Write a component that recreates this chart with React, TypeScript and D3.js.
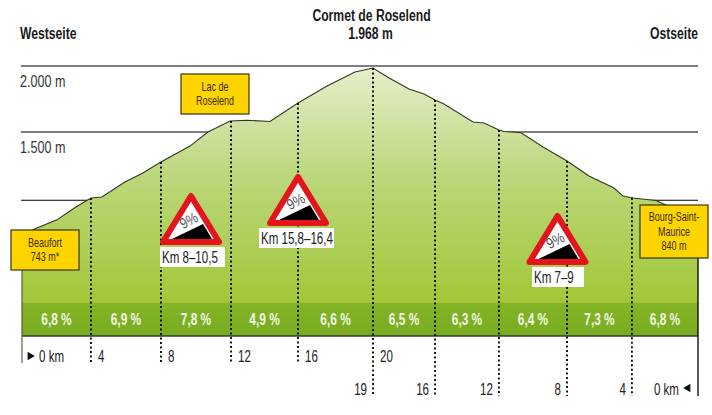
import { useEffect, useRef } from 'react';
import * as d3 from 'd3';

// distance along the drawing (schematic km) and elevation in m
const profileDist = [0, 0.77, 2.07, 3.14, 4.08, 4.73, 6.09, 7.15, 8.22, 9.94, 11, 12.31, 13.31, 14.67, 16.33, 18.05, 19.7, 20.77, 21.72, 22.9, 23.79, 24.44, 24.97, 26.69, 27.34, 28.22, 28.52, 29.53, 30.83, 32.25, 33.55, 35.03, 35.56, 36.15, 37.51, 38.1, 40];
const profileElev = [743, 790, 856, 947, 1017, 1024, 1134, 1200, 1280, 1397, 1500, 1583, 1589, 1580, 1720, 1848, 1955, 1985, 1909, 1826, 1788, 1742, 1712, 1576, 1568, 1515, 1504, 1495, 1390, 1288, 1178, 1090, 1031, 1017, 998, 966, 840];

const elevTicks = [1000, 1500, 2000];
const elevLabels = ['', '1.500 m', '2.000 m'];

const sectionEnds = [0, 4.08, 8.22, 12.37, 16.33, 20.77, 24.44, 28.22, 32.25, 36.09, 40];
const gradients = ['6,8 %', '6,9 %', '7,8 %', '4,9 %', '6,6 %', '6,5 %', '6,3 %', '6,4 %', '7,3 %', '6,8 %'];

const westKm = ['0 km', '4', '8', '12', '16', '20'];
const eastKm = ['19', '16', '12', '8', '4', '0 km'];

const places = [
  { lines: ['Lac de', 'Roselend'], x: 181, y: 74, w: 68, h: 40 },
  { lines: ['Beaufort', '743 m*'], x: 11, y: 230, w: 68, h: 40 },
  { lines: ['Bourg-Saint-', 'Maurice', '840 m'], x: 640, y: 205, w: 68, h: 53 },
];

const signs = [
  { label: 'Km 8–10,5', cx: 191, top: 191, labelX: 160, labelY: 247, labelW: 65 },
  { label: 'Km 15,8–16,4', cx: 298, top: 172, labelX: 259, labelY: 228, labelW: 75 },
  { label: 'Km 7–9', cx: 557.5, top: 211, labelX: 532, labelY: 267, labelW: 52 },
];

const FONT = '"Liberation Sans", sans-serif';

type Opts = { size?: number; weight?: number; anchor?: string; fill?: string; sx?: number };

// no condensed face is installed, so squeeze the text horizontally
function label(parent: any, txt: string, x: number, y: number, o: Opts = {}) {
  const { size = 17, weight = 400, anchor = 'start', fill = '#222', sx = 0.68 } = o;
  return parent.append('text')
    .attr('transform', `translate(${x},${y}) scale(${sx},1)`)
    .attr('text-anchor', anchor)
    .attr('font-family', FONT)
    .attr('font-size', size)
    .attr('font-weight', weight)
    .attr('fill', fill)
    .text(txt);
}

export default function App() {
  const svgRef = useRef<SVGSVGElement>(null);

  useEffect(() => {
    if (!svgRef.current) return;
    const svg = d3.select(svgRef.current);
    svg.selectAll('*').remove();

    const x = d3.scaleLinear().domain([0, 40]).range([22, 698]);
    const y = d3.scaleLinear().domain([0, 1000, 1500, 2000]).range([336, 200.3, 132, 66]);
    const bottom = y(0);
    const bandTop = y(245);

    const defs = svg.append('defs');
    const grad = defs.append('linearGradient').attr('id', 'hill').attr('x1', 0).attr('x2', 0).attr('y1', 0).attr('y2', 1);
    grad.append('stop').attr('offset', '0%').attr('stop-color', '#e6eecb');
    grad.append('stop').attr('offset', '40%').attr('stop-color', '#bcd77c');
    grad.append('stop').attr('offset', '86%').attr('stop-color', '#a2c83a');
    const bandGrad = defs.append('linearGradient').attr('id', 'band').attr('x1', 0).attr('x2', 0).attr('y1', 0).attr('y2', 1);
    bandGrad.append('stop').attr('offset', '0%').attr('stop-color', '#84b526');
    bandGrad.append('stop').attr('offset', '100%').attr('stop-color', '#79ab22');

    // elevation lines behind the hill
    svg.selectAll('.grid').data(elevTicks).join('line')
      .attr('x1', 21).attr('x2', 698)
      .attr('y1', d => y(d)).attr('y2', d => y(d))
      .attr('stroke', '#000').attr('stroke-width', 1.1);

    const pts = profileDist.map((d, i) => [d, profileElev[i]] as [number, number]);
    const area = d3.area<[number, number]>().x(d => x(d[0])).y0(bottom).y1(d => y(d[1]));
    const line = d3.line<[number, number]>().x(d => x(d[0])).y(d => y(d[1]));
    svg.append('path').attr('d', area(pts)).attr('fill', 'url(#hill)');
    svg.append('rect').attr('x', x(0)).attr('y', bandTop).attr('width', x(40) - x(0)).attr('height', bottom - bandTop).attr('fill', 'url(#band)');
    svg.append('path').attr('d', line(pts)).attr('fill', 'none').attr('stroke', '#2f3a1c').attr('stroke-width', 1.1);

    svg.append('line').attr('x1', x(0)).attr('x2', x(40)).attr('y1', bottom).attr('y2', bottom).attr('stroke', '#333d22').attr('stroke-width', 1.3);
    svg.append('line').attr('x1', x(0)).attr('x2', x(0)).attr('y1', y(743)).attr('y2', 363).attr('stroke', '#4a5330').attr('stroke-width', 1.1);
    svg.append('line').attr('x1', x(40)).attr('x2', x(40)).attr('y1', y(840)).attr('y2', 396).attr('stroke', '#000').attr('stroke-width', 1.3);

    // dotted km dividers
    const elevAt = d3.scaleLinear().domain(profileDist).range(profileElev);
    svg.selectAll('.div').data(sectionEnds.slice(1, -1)).join('line')
      .attr('x1', d => x(d)).attr('x2', d => x(d))
      .attr('y1', d => y(elevAt(d)))
      .attr('y2', (_, i) => (i < 4 ? 363 : 396))
      .attr('stroke', '#000').attr('stroke-width', 1.8).attr('stroke-dasharray', '2,2.5');

    // gradient labels
    gradients.forEach((g, i) => {
      label(svg, g, (x(sectionEnds[i]) + x(sectionEnds[i + 1])) / 2, 325, { anchor: 'middle', weight: 700, fill: '#f2f6e4', sx: 0.7 });
    });

    // elevation labels
    elevTicks.forEach((t, i) => {
      if (elevLabels[i]) label(svg, elevLabels[i], 20, y(t) + 21, { fill: '#333', sx: 0.74 });
    });

    // titles
    const title = { size: 16, weight: 700, fill: '#1a1a1a', sx: 0.76 };
    label(svg, 'Westseite', 20, 39, title);
    label(svg, 'Ostseite', 698, 39, { ...title, anchor: 'end' });
    label(svg, 'Cormet de Roselend', 371.5, 21, { ...title, anchor: 'middle' });
    label(svg, '1.968 m', 370.5, 39, { ...title, anchor: 'middle' });

    // km labels, west side
    westKm.forEach((k, i) => {
      label(svg, k, i === 0 ? 39 : x(sectionEnds[i]) + 7, 362);
    });
    svg.append('path').attr('d', d3.symbol(d3.symbolTriangle, 30)()!).attr('transform', 'translate(30,356) rotate(90)').attr('fill', '#111');

    // km labels, east side
    eastKm.forEach((k, i) => {
      label(svg, k, i === 5 ? 679 : x(sectionEnds[i + 5]) - 6, 395, { anchor: 'end' });
    });
    svg.append('path').attr('d', d3.symbol(d3.symbolTriangle, 30)()!).attr('transform', 'translate(688,388) rotate(-90)').attr('fill', '#111');

    // yellow place boxes
    const boxes = svg.selectAll('.place').data(places).join('g').attr('transform', d => `translate(${d.x},${d.y})`);
    boxes.append('rect').attr('width', d => d.w).attr('height', d => d.h)
      .attr('fill', '#ffd400').attr('stroke', '#3a3410').attr('stroke-width', 1.2);
    boxes.each(function (d) {
      const g = d3.select(this);
      const start = d.h / 2 - ((d.lines.length - 1) * 14.5) / 2 + 4;
      d.lines.forEach((l, i) => {
        label(g, l, d.w / 2, start + i * 14.5, { size: 12.5, anchor: 'middle', fill: '#3a2c00', sx: 0.72 });
      });
    });

    // warning signs
    const sg = svg.selectAll('.sign').data(signs).join('g');
    sg.each(function (d) {
      const g = d3.select(this);
      const t = d.top + 5, b = d.top + 51, hw = 28;
      g.append('path').attr('d', `M${d.cx},${t}L${d.cx + hw},${b}L${d.cx - hw},${b}Z`)
        .attr('fill', '#fff').attr('stroke', '#e3141c').attr('stroke-width', 6).attr('stroke-linejoin', 'round');
      g.append('path').attr('d', `M${d.cx - 19},${b - 3}L${d.cx + 12},${b - 18}L${d.cx + 21},${b - 3}Z`).attr('fill', '#000');
      g.append('text')
        .attr('transform', `translate(${d.cx},${b - 17}) rotate(-28) scale(0.85,1)`)
        .attr('text-anchor', 'middle')
        .attr('font-family', FONT).attr('font-size', 15).attr('fill', '#555').text('9%');
      g.append('rect').attr('x', d.labelX).attr('y', d.labelY).attr('width', d.labelW).attr('height', 20).attr('fill', '#fff');
      label(g, d.label, d.labelX + 2, d.labelY + 16);
    });
  }, []);

  return <svg ref={svgRef} width={712} height={415} style={{ position: 'absolute', left: 0, top: 0, background: '#fff' }} />;
}
